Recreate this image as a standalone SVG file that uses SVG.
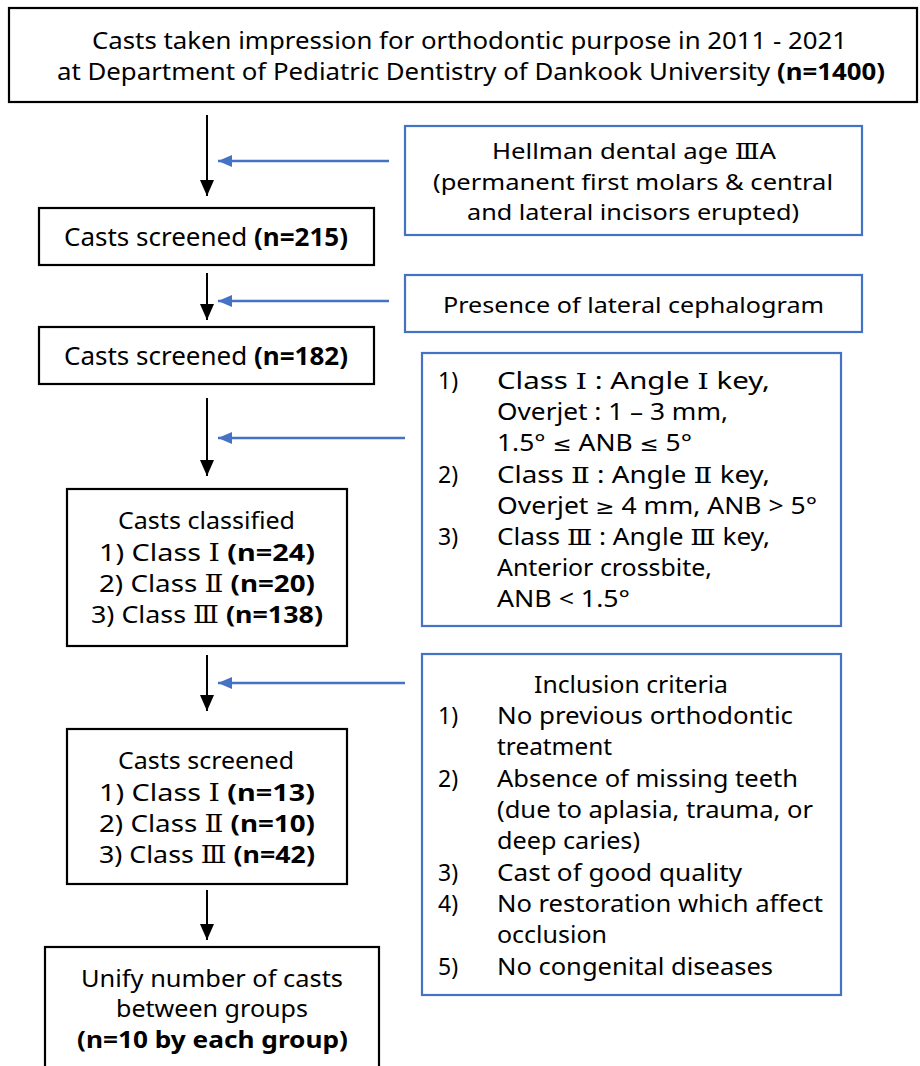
<svg xmlns="http://www.w3.org/2000/svg" width="920" height="1066" viewBox="0 0 920 1066">
<style>
text{font-family:"Noto Sans","Noto Sans CJK KR",sans-serif;fill:#000}
.b{font-weight:bold}
.r{font-family:"DejaVu Serif","Noto Sans CJK KR",serif;font-weight:normal}
.m{font-family:"DejaVu Sans",sans-serif;font-size:20px}
.kbox{fill:#fff;stroke:#000;stroke-width:2.2}
.bbox{fill:#fff;stroke:#4472C4;stroke-width:2.2}
.kline{stroke:#000;stroke-width:2;fill:none}
.bline{stroke:#4472C4;stroke-width:2.5;fill:none}
.f24{font-size:24px}
.f23{font-size:23px}
.f22{font-size:22.5px}
</style>
<defs>
<marker id="ak" markerUnits="userSpaceOnUse" markerWidth="16" markerHeight="16" viewBox="0 0 16 16" refX="16" refY="8" orient="auto">
<path d="M0,1 L16,8 L0,15 Z" fill="#000"/>
</marker>
<marker id="ab" markerUnits="userSpaceOnUse" markerWidth="14" markerHeight="14" viewBox="0 0 14 14" refX="14" refY="7" orient="auto">
<path d="M0,1 L14,7 L0,13 Z" fill="#4472C4"/>
</marker>
</defs>

<g id="connectors">
<line class="kline" x1="207" y1="115" x2="207" y2="196" marker-end="url(#ak)"/>
<line class="kline" x1="207" y1="273" x2="207" y2="320" marker-end="url(#ak)"/>
<line class="kline" x1="207" y1="398" x2="207" y2="476" marker-end="url(#ak)"/>
<line class="kline" x1="207" y1="655" x2="207" y2="711" marker-end="url(#ak)"/>
<line class="kline" x1="207" y1="890" x2="207" y2="940" marker-end="url(#ak)"/>
<line class="bline" x1="389" y1="161" x2="218" y2="161" marker-end="url(#ab)"/>
<line class="bline" x1="389" y1="301" x2="218" y2="301" marker-end="url(#ab)"/>
<line class="bline" x1="405" y1="438" x2="218" y2="438" marker-end="url(#ab)"/>
<line class="bline" x1="405" y1="683" x2="218" y2="683" marker-end="url(#ab)"/>
</g>

<g id="n1400">
<rect class="kbox" x="9" y="8" width="908" height="94" stroke-width="2.5"/>
<text x="92" y="49" font-size="23" textLength="755" lengthAdjust="spacingAndGlyphs">Casts taken impression for orthodontic purpose in 2011 - 2021</text>
<text x="57" y="80" font-size="23" textLength="828" lengthAdjust="spacingAndGlyphs">at Department of Pediatric Dentistry of Dankook University <tspan class="b">(n=1400)</tspan></text>
</g>

<g id="hellman">
<rect class="bbox" x="405" y="126" width="457" height="109"/>
<text class="f22" x="492" y="159" textLength="284" lengthAdjust="spacingAndGlyphs">Hellman dental age <tspan class="r">Ⅲ</tspan>A</text>
<text class="f22" x="433" y="190" textLength="400" lengthAdjust="spacingAndGlyphs">(permanent first molars &amp; central</text>
<text class="f22" x="467" y="220" textLength="332" lengthAdjust="spacingAndGlyphs">and lateral incisors erupted)</text>
</g>

<g id="n215">
<rect class="kbox" x="39" y="208" width="335" height="57"/>
<text x="64" y="246" font-size="25" textLength="284" lengthAdjust="spacingAndGlyphs">Casts screened <tspan class="b">(n=215)</tspan></text>
</g>

<g id="cephalogram">
<rect class="bbox" x="405" y="275" width="457" height="57"/>
<text class="f22" x="443" y="313" textLength="381" lengthAdjust="spacingAndGlyphs">Presence of lateral cephalogram</text>
</g>

<g id="n182">
<rect class="kbox" x="39" y="327" width="335" height="57"/>
<text x="64" y="365" font-size="25" textLength="284" lengthAdjust="spacingAndGlyphs">Casts screened <tspan class="b">(n=182)</tspan></text>
</g>

<g id="classification">
<rect class="bbox" x="422" y="353" width="419" height="273"/>
<text class="f23" x="438" y="389">1)</text>
<text class="f23" x="497" y="389" textLength="273" lengthAdjust="spacingAndGlyphs">Class <tspan class="r">Ⅰ</tspan> : Angle <tspan class="r">Ⅰ</tspan> key,</text>
<text class="f23" x="497" y="420" textLength="231" lengthAdjust="spacingAndGlyphs">Overjet : 1 – 3 mm,</text>
<text class="f23" x="497" y="451" textLength="195" lengthAdjust="spacingAndGlyphs">1.5° <tspan class="m">≤</tspan> ANB <tspan class="m">≤</tspan> 5°</text>
<text class="f23" x="438" y="483">2)</text>
<text class="f23" x="497" y="483" textLength="273" lengthAdjust="spacingAndGlyphs">Class <tspan class="r">Ⅱ</tspan> : Angle <tspan class="r">Ⅱ</tspan> key,</text>
<text class="f23" x="497" y="514" textLength="320" lengthAdjust="spacingAndGlyphs">Overjet <tspan class="m">≥</tspan> 4 mm, ANB &gt; 5°</text>
<text class="f23" x="438" y="545">3)</text>
<text class="f23" x="497" y="545" textLength="273" lengthAdjust="spacingAndGlyphs">Class <tspan class="r">Ⅲ</tspan> : Angle <tspan class="r">Ⅲ</tspan> key,</text>
<text class="f23" x="497" y="576" textLength="215" lengthAdjust="spacingAndGlyphs">Anterior crossbite,</text>
<text class="f23" x="497" y="607" textLength="133" lengthAdjust="spacingAndGlyphs">ANB &lt; 1.5°</text>
</g>

<g id="classified">
<rect class="kbox" x="67" y="489" width="280" height="157"/>
<text class="f24" x="118" y="529" textLength="177" lengthAdjust="spacingAndGlyphs">Casts classified</text>
<text class="f24" x="99" y="561" textLength="216" lengthAdjust="spacingAndGlyphs">1) Class <tspan class="r">Ⅰ</tspan>  <tspan class="b">(n=24)</tspan></text>
<text class="f24" x="99" y="592" textLength="216" lengthAdjust="spacingAndGlyphs">2) Class <tspan class="r">Ⅱ</tspan> <tspan class="b">(n=20)</tspan></text>
<text class="f24" x="91" y="623" textLength="232" lengthAdjust="spacingAndGlyphs">3) Class <tspan class="r">Ⅲ</tspan> <tspan class="b">(n=138)</tspan></text>
</g>

<g id="inclusion">
<rect class="bbox" x="422" y="654" width="419" height="341"/>
<text class="f23" x="534" y="693" textLength="194" lengthAdjust="spacingAndGlyphs">Inclusion criteria</text>
<text class="f23" x="438" y="724">1)</text>
<text class="f23" x="497" y="724" textLength="296" lengthAdjust="spacingAndGlyphs">No previous orthodontic</text>
<text class="f23" x="497" y="755" textLength="115" lengthAdjust="spacingAndGlyphs">treatment</text>
<text class="f23" x="438" y="787">2)</text>
<text class="f23" x="497" y="787" textLength="301" lengthAdjust="spacingAndGlyphs">Absence of missing teeth</text>
<text class="f23" x="497" y="818" textLength="316" lengthAdjust="spacingAndGlyphs">(due to aplasia, trauma, or</text>
<text class="f23" x="497" y="849" textLength="143" lengthAdjust="spacingAndGlyphs">deep caries)</text>
<text class="f23" x="438" y="881">3)</text>
<text class="f23" x="497" y="881" textLength="245" lengthAdjust="spacingAndGlyphs">Cast of good quality</text>
<text class="f23" x="438" y="912">4)</text>
<text class="f23" x="497" y="912" textLength="326" lengthAdjust="spacingAndGlyphs">No restoration which affect</text>
<text class="f23" x="497" y="943" textLength="110" lengthAdjust="spacingAndGlyphs">occlusion</text>
<text class="f23" x="438" y="975">5)</text>
<text class="f23" x="497" y="975" textLength="276" lengthAdjust="spacingAndGlyphs">No congenital diseases</text>
</g>

<g id="screened">
<rect class="kbox" x="67" y="729" width="280" height="155"/>
<text class="f24" x="118" y="769" textLength="176" lengthAdjust="spacingAndGlyphs">Casts screened</text>
<text class="f24" x="99" y="801" textLength="216" lengthAdjust="spacingAndGlyphs">1) Class <tspan class="r">Ⅰ</tspan>  <tspan class="b">(n=13)</tspan></text>
<text class="f24" x="99" y="832" textLength="216" lengthAdjust="spacingAndGlyphs">2) Class <tspan class="r">Ⅱ</tspan> <tspan class="b">(n=10)</tspan></text>
<text class="f24" x="99" y="863" textLength="216" lengthAdjust="spacingAndGlyphs">3) Class <tspan class="r">Ⅲ</tspan> <tspan class="b">(n=42)</tspan></text>
</g>

<g id="unify">
<rect class="kbox" x="45" y="947" width="334" height="130"/>
<text class="f24" x="81" y="987" textLength="262" lengthAdjust="spacingAndGlyphs">Unify number of casts</text>
<text class="f24" x="116" y="1017" textLength="192" lengthAdjust="spacingAndGlyphs">between groups</text>
<text class="f24 b" x="77" y="1048" textLength="271" lengthAdjust="spacingAndGlyphs">(n=10 by each group)</text>
</g>
</svg>
